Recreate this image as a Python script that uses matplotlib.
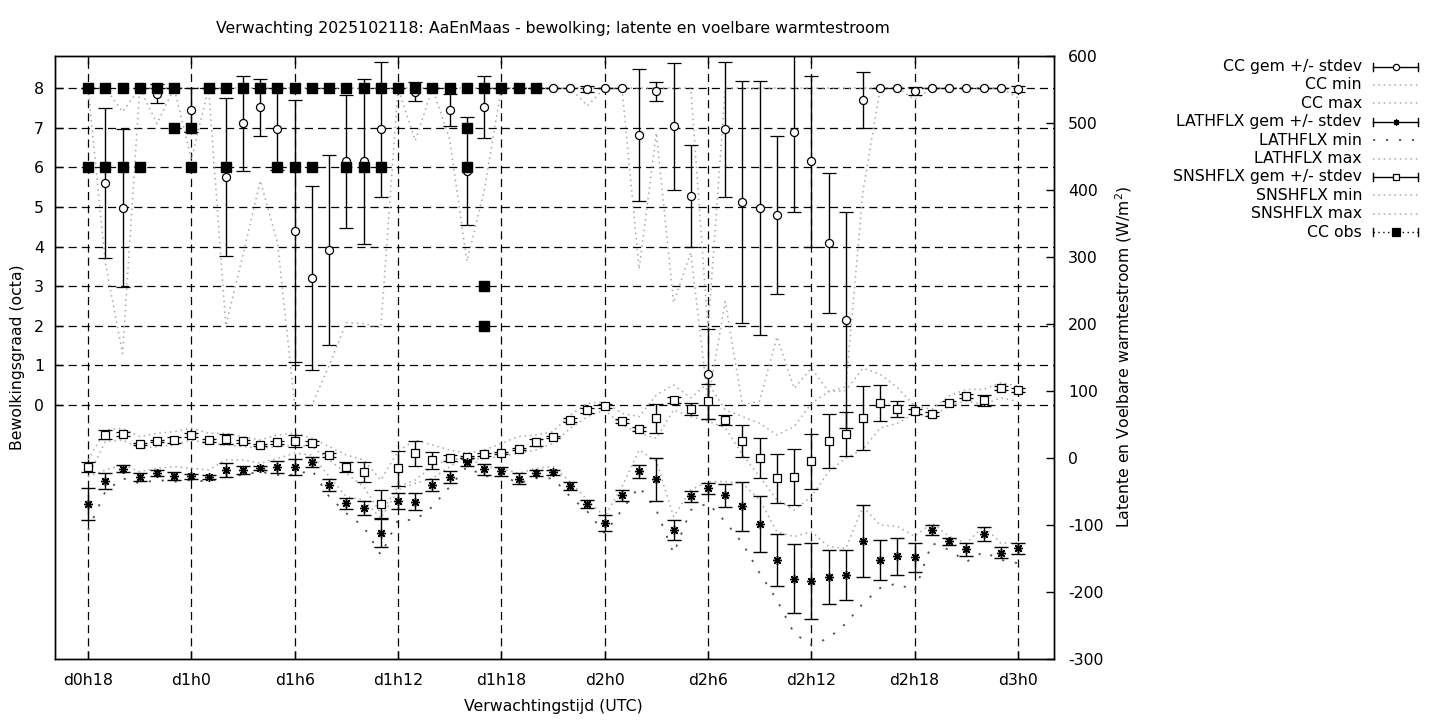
import numpy as np
import matplotlib

matplotlib.use("Agg")
import matplotlib.pyplot as plt
from matplotlib.lines import Line2D

# forecast hours, d0h18 .. d3h0
hours = np.arange(18, 73)
tick_hours = [18, 24, 30, 36, 42, 48, 54, 60, 66, 72]
tick_labels = ["d0h18", "d1h0", "d1h6", "d1h12", "d1h18",
               "d2h0", "d2h6", "d2h12", "d2h18", "d3h0"]

# cloud cover (octa)
cc_mean = [8, 5.6, 4.97, 8, 7.86, 8, 7.44, 8, 5.76, 7.11,
           7.52, 6.97, 4.39, 3.2, 3.91, 6.15, 6.15, 6.96, 8, 7.91,
           8, 7.44, 5.91, 7.52, 8, 8, 8, 8, 8, 7.97,
           8, 8, 6.81, 7.92, 7.03, 5.27, 0.78, 6.96, 5.12, 4.97,
           4.79, 6.89, 6.15, 4.08, 2.14, 7.69, 8, 8, 7.92, 8,
           8, 8, 8, 8, 7.98]
cc_sd = [0, 1.9, 2.0, 0, 0.24, 0, 0.55, 0, 2.0, 1.2,
         0.72, 1.04, 3.3, 2.32, 2.4, 1.68, 2.08, 1.7, 0, 0.24,
         0, 0.4, 1.37, 0.79, 0, 0, 0, 0, 0, 0.08,
         0, 0, 1.67, 0.24, 1.6, 1.28, 1.13, 1.7, 3.05, 3.2,
         2.0, 2.03, 2.16, 1.77, 2.72, 0.71, 0, 0, 0.1, 0,
         0, 0, 0, 0, 0.08]
cc_min = [8, 3.6, 1.3, 8, 7.1, 8, 6.2, 8, 2.0, 3.8,
          5.66, 4.1, 0.0, 0.0, 1.0, 2.08, 2.05, 1.95, 8, 6.67,
          8, 6.7, 3.63, 5.4, 8, 8, 8, 8, 8, 7.55,
          8, 8, 3.43, 6.87, 2.58, 3.85, 0.1, 2.61, 0.0, 0.1,
          1.72, 0.42, 0.93, 0.34, 0.46, 5.4, 8, 8, 7.71, 8,
          8, 8, 8, 8, 7.75]
cc_max = [8, 8, 7.4, 8, 8, 8, 8, 8, 8, 8,
          8, 8, 8, 8, 8, 8, 8, 8, 8, 8,
          8, 8, 8, 8, 8, 8, 8, 8, 8, 8,
          8, 8, 8, 8, 8, 8, 1.9, 8, 8, 8,
          8, 8, 8, 8, 8, 8, 8, 8, 8, 8,
          8, 8, 8, 8, 8]

# latent heat flux (W/m2)
lat_mean = [-69, -34.3, -15.9, -28.8, -22.4, -26.4, -27.3, -28.8, -17.9, -17.4,
            -15.4, -13.4, -13.4, -6, -39.8, -67.6, -75, -112.4, -64.6, -65.2,
            -40.7, -28.8, -6, -16.9, -19.8, -30.8, -22.4, -21.4, -41.3, -69,
            -97.4, -55.7, -19.8, -31.8, -107.9, -57.2, -45.2, -55.7, -72.1, -98.9,
            -152.6, -180, -184, -178, -175, -124.3, -152.6, -146.7, -148.2, -107.4,
            -124.3, -136.3, -113.4, -141.2, -134.7]
lat_sd = [24, 12, 5, 6, 4, 6, 4, 3, 10, 6,
          3, 9.5, 12, 8, 9, 8, 10.5, 21, 12, 13,
          9, 9, 6, 8, 7, 8, 4, 4, 6, 6,
          12, 8, 10, 32, 14.7, 8, 8, 17.4, 36.5, 42,
          38.6, 52, 57, 40.5, 37, 54, 30, 27.6, 22, 8,
          5, 10, 11, 8, 8]
lat_min = [-107.4, -50.2, -30.3, -37.8, -32.8, -35.3, -32.8, -35.3, -27.8, -25.3,
           -20.4, -25.3, -25.3, -17.9, -57.7, -82.6, -102.5, -144.7, -92.5, -92.5,
           -72.6, -42.8, -12.9, -27.8, -25.3, -37.8, -30.3, -30.3, -57.7, -80,
           -112.4, -77.6, -42.8, -77.6, -142.3, -77.6, -67.6, -95, -127.3, -172,
           -211.9, -261.7, -279, -269, -247, -217, -194, -187, -199, -127,
           -137, -155, -140, -152, -157]
lat_max = [-27.8, -17.9, -10.4, -20.4, -15.4, -12.9, -15.4, -17.9, -3, -3,
           -7.9, -0.5, 7, 4.5, -27.8, -57.7, -62.7, -90, -47.7, -37.8,
           -30.3, -12.9, 2, -12.9, -15.4, -22.9, -15.4, -12.9, -35.3, -62.7,
           -87.5, -42.8, 12, -5, -87.5, -47.7, -35.3, -35.3, -37.8, -62.7,
           -110, -117.4, -110, -132, -135, -73, -100, -102, -117, -97,
           -117, -127, -102, -127, -127]

# sensible heat flux (W/m2)
sns_mean = [-13.4, 34.8, 35.8, 20.9, 25.4, 26.9, 34.3, 26.4, 28.4, 24.9,
            19.4, 23.4, 25.4, 21.9, 4.0, -13.4, -20.9, -69, -15.4, 7.0,
            -3.4, 0, 1.5, 5.4, 7.5, 13.4, 23.4, 31.3, 56.3, 71.2,
            77.2, 55.3, 42.8, 59.3, 86.6, 73.1, 84.6, 56.8, 25, -0.5,
            -30.3, -28.8, -5, 25, 35.4, 59.5, 82.6, 73.6, 69.7, 65.2,
            82.6, 92.5, 86, 104, 101.5]
sns_sd = [7, 6.5, 3, 2, 2, 5, 3, 2, 7, 2,
          2, 2, 9, 3, 3, 8, 15, 21, 26, 18.6,
          13, 4, 2, 2, 2, 2, 5, 2, 3, 4,
          3, 3, 3, 21.6, 5, 9, 26, 7, 23.6, 30,
          37, 42, 41, 40, 33, 48, 27, 12, 4, 3,
          3, 3, 8, 3, 3]
sns_min = [-27.8, 24.4, 26.9, 14.5, 17, 19.4, 26.9, 21.9, 19.4, 17,
           14.5, 17, 19.4, 17, -3, -22.9, -42.8, -82.6, -42.8, -32.8,
           -12.9, -0.5, -3, -0.5, 2, 7, 12, 22, 44.3, 61.7,
           71.7, 49.3, 36.9, 29.4, 71.7, 61.7, 55, 45, 5, -27.8,
           -62.6, -77.6, -57.7, -20.4, 0, 13, 45, 51.8, 66, 62,
           78, 85, 80, 90, 84]
sns_max = [-2.9, 41.8, 44.3, 31.9, 36.9, 39.3, 44.3, 36.9, 36.9, 31.9,
           26.9, 34.4, 36.9, 29.4, 17, 4.5, -3, -32.8, 10, 26.9,
           19.4, 12, 7, 12, 21.9, 31.9, 34.4, 39.4, 64.2, 81.6,
           84.1, 66.7, 61.7, 94.1, 109, 89.6, 112, 71.7, 61.7, 51.8,
           34.4, 46.8, 81.6, 99, 101, 134, 125, 105, 77.6, 72.6,
           92.5, 102.5, 102.5, 112.5, 107.5]

# observed cloud cover (several stations per hour)
obs_hours = [18, 18, 19, 19, 20, 20, 21, 21, 22, 23, 23, 24, 24, 25, 26, 26,
             27, 28, 29, 29, 30, 30, 31, 31, 32, 33, 33, 34, 34, 35, 35, 36,
             37, 38, 39, 40, 40, 40, 41, 41, 41, 42, 43, 44]
obs_vals = [8, 6, 8, 6, 8, 6, 8, 6, 8, 8, 7, 7, 6, 8, 8, 6,
            8, 8, 8, 6, 8, 6, 8, 6, 8, 8, 6, 8, 6, 8, 6, 8,
            8, 8, 8, 8, 7, 6, 8, 3, 2, 8, 8, 8]

GRAY = "#a8a8a8"
GRAY_LS = (0, (1, 2.5))
DARK_LS = (0, (1.2, 6))
FS = 11.3
EB = dict(ecolor="black", elinewidth=1.0, capsize=5, capthick=1.0)

plt.rcParams["font.family"] = "DejaVu Sans"
plt.rcParams["font.size"] = FS
plt.rcParams["axes.unicode_minus"] = False

fig = plt.figure(figsize=(14.4, 7.2), dpi=100)
ax = fig.add_axes([55 / 1440, 1 - 659 / 720, 999 / 1440, 603 / 720])
ax2 = ax.twinx()

# cloud cover
ax.errorbar(hours, cc_mean, yerr=cc_sd, fmt="o", ms=5.8, mfc="white", mec="black",
            mew=0.9, zorder=3, **EB)
ax.plot(hours, cc_min, color=GRAY, linestyle=GRAY_LS, linewidth=1.1, zorder=2)
ax.plot(hours, cc_max, color=GRAY, linestyle=GRAY_LS, linewidth=1.1, zorder=2)
ax.plot(obs_hours, obs_vals, linestyle="none", marker="s", ms=6.5, color="black", zorder=4)

# heat fluxes on the right axis
ax2.errorbar(hours, lat_mean, yerr=lat_sd, fmt="none", zorder=3, **EB)
ax2.plot(hours, lat_mean, linestyle="none", marker=(8, 2, 0), ms=6.5, mew=1.0,
         color="black", zorder=4)
ax2.plot(hours, lat_min, color="#505050", linestyle=DARK_LS, linewidth=1.3, zorder=2)
ax2.plot(hours, lat_max, color=GRAY, linestyle=GRAY_LS, linewidth=1.1, zorder=2)

ax2.errorbar(hours, sns_mean, yerr=sns_sd, fmt="s", ms=6.2, mfc="white", mec="black",
             mew=0.9, zorder=3, **EB)
ax2.plot(hours, sns_min, color=GRAY, linestyle=GRAY_LS, linewidth=1.1, zorder=2)
ax2.plot(hours, sns_max, color=GRAY, linestyle=GRAY_LS, linewidth=1.1, zorder=2)

# axes
ax.set_xlim(16.08, 74.09)
ax.set_ylim(-6.41, 8.808)
ax2.set_ylim(-300, 600)

ax.set_xticks(tick_hours)
ax.set_xticklabels(tick_labels)
ax.set_yticks(range(0, 9))
ax2.set_yticks(range(-300, 601, 100))

ax.tick_params(axis="x", direction="in", length=6, width=1, pad=10, top=True)
ax.tick_params(axis="y", direction="in", length=6, width=1, pad=8)
ax2.tick_params(axis="y", direction="in", length=6, width=1, pad=10)

ax.grid(True, color="black", linestyle=(0, (6.5, 4)), linewidth=0.9)
ax.set_axisbelow(True)

for a in (ax, ax2):
    for sp in a.spines.values():
        sp.set_linewidth(1.0)
        sp.set_color("black")

fig.text(553 / 1440, 1 - 29 / 720, "Verwachting 2025102118: AaEnMaas - bewolking; "
         "latente en voelbare warmtestroom", ha="center", va="center", fontsize=FS)
fig.text(553 / 1440, 1 - 706 / 720, "Verwachtingstijd (UTC)", ha="center",
         va="center", fontsize=FS)
fig.text(18 / 1440, 1 - 357 / 720, "Bewolkingsgraad (octa)", rotation=90,
         ha="center", va="center", fontsize=FS)
fig.text(1124 / 1440, 1 - 357 / 720, "Latente en Voelbare warmtestroom (W/m$^2$)",
         rotation=90, ha="center", va="center", fontsize=FS)

# legend, drawn in pixel coordinates to the right of the plot
leg = fig.add_axes([0, 0, 1, 1], facecolor="none")
leg.set_xlim(0, 1440)
leg.set_ylim(720, 0)
leg.axis("off")

entries = [
    ("CC gem +/- stdev", "err", "o", "white"),
    ("CC min", "gray", None, None),
    ("CC max", "gray", None, None),
    ("LATHFLX gem +/- stdev", "err", (8, 2, 0), "black"),
    ("LATHFLX min", "dark", None, None),
    ("LATHFLX max", "gray", None, None),
    ("SNSHFLX gem +/- stdev", "err", "s", "white"),
    ("SNSHFLX min", "gray", None, None),
    ("SNSHFLX max", "gray", None, None),
    ("CC obs", "obs", "s", "black"),
]
x0, x1 = 1373, 1418
for i, (label, kind, marker, fill) in enumerate(entries):
    y = 66.5 + i * 18.4
    leg.text(1362, y, label, ha="right", va="center", fontsize=FS)
    if kind == "gray":
        leg.add_line(Line2D([x0, x1], [y, y], color=GRAY, linestyle=GRAY_LS, linewidth=1.1))
    elif kind == "dark":
        leg.add_line(Line2D([x0, x1], [y, y], color="#505050", linestyle=DARK_LS, linewidth=1.3))
    else:
        ls = "-" if kind == "err" else (0, (1, 2.5))
        leg.add_line(Line2D([x0, x1], [y, y], color="black", linestyle=ls, linewidth=1.0))
        for xe in (x0, x1):
            leg.add_line(Line2D([xe, xe], [y - 4, y + 4], color="black", linewidth=1.0))
        ms = 4.5 if kind == "err" else 5.5
        leg.add_line(Line2D([(x0 + x1) / 2], [y], marker=marker, ms=ms, mfc=fill,
                            mec="black", color="black", mew=0.9, linestyle="none"))

fig.savefig("out.png", dpi=100)
plt.close(fig)
